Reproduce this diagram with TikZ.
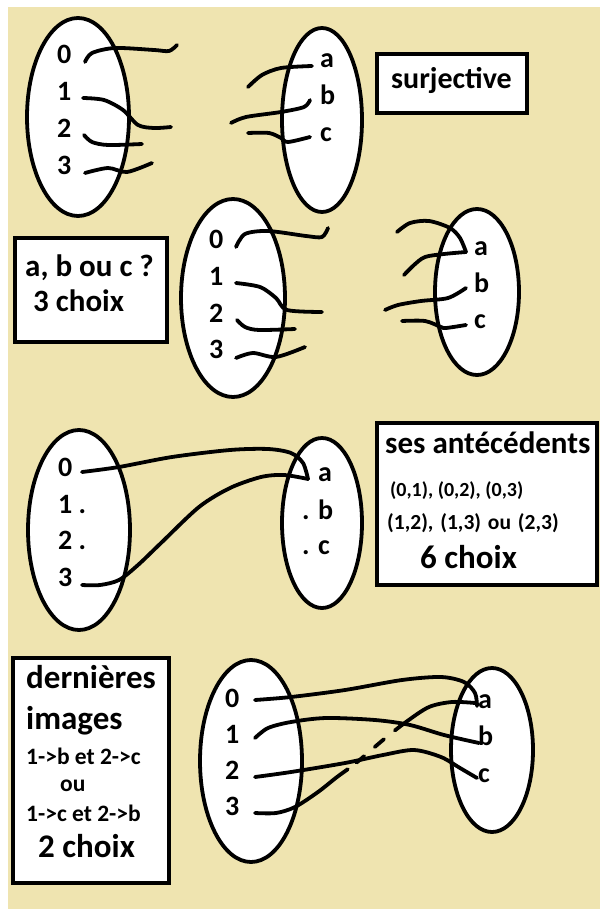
\documentclass[tikz,border=0pt]{standalone}
\usepackage{fontspec}
\setmainfont{Carlito}
\usetikzlibrary{shapes.geometric}
\definecolor{parchment}{RGB}{239,228,176}
\begin{document}
\begin{tikzpicture}[x=1pt,y=-1pt,
  setoval/.style={ellipse, draw, fill=white, line width=3.8pt, inner sep=0pt},
  elt/.style={anchor=base west, inner sep=0pt, font=\bfseries\fontsize{28}{32}\selectfont},
  boxtxt/.style={anchor=base west, inner sep=0pt, font=\bfseries\fontsize{31}{36}\selectfont},
  bigtxt/.style={anchor=base west, inner sep=0pt, font=\bfseries\fontsize{33}{38}\selectfont},
  smalltxt/.style={anchor=base west, inner sep=0pt, font=\bfseries\fontsize{20}{24}\selectfont},
  midtxt/.style={anchor=base west, inner sep=0pt, font=\bfseries\fontsize{23.5}{28}\selectfont},
  frame/.style={rectangle, draw, fill=white, line width=4.5pt, inner sep=0pt},
  link/.style={line width=3.8pt, line cap=round, line join=round},
]
% background
\useasboundingbox (0,0) rectangle (600,909);
\fill[white] (0,0) rectangle (600,909);
\fill[parchment] (8,7) rectangle (600,909);

% ---------- first diagram: surjective ----------
\node[setoval, minimum width=102pt, minimum height=198pt] (A1) at (78,117) {};
\node[setoval, minimum width=80pt, minimum height=184pt] (B1) at (322,120) {};
\node[elt] (A1n0) at (57,64) {0};
\node[elt] (A1n1) at (57,101) {1};
\node[elt] (A1n2) at (57,138) {2};
\node[elt] (A1n3) at (57,175) {3};
\node[elt] (B1na) at (320,68) {a};
\node[elt] (B1nb) at (320,105) {b};
\node[elt] (B1nc) at (320,142) {c};
\node[frame, minimum width=150pt, minimum height=59pt] (S1) at (452,83.5) {};
\node[boxtxt, font=\bfseries\fontsize{30}{34}\selectfont] (S1t) at (391,89) {surjective};

\coordinate (u0) at (85,62);
\coordinate (u1) at (83,98);
\coordinate (u2) at (84,135);
\coordinate (u3) at (85,173);
\coordinate (va) at (312,66);
\coordinate (vb) at (310,100);
\coordinate (vc) at (310,137);
\draw[link] plot[smooth] coordinates {(u0) (92,53) (115,48) (154,50) (169,51) (177,45)};
\draw[link] plot[smooth] coordinates {(u1) (104,100) (123,110) (138,125) (154,128) (171,127)};
\draw[link] plot[smooth] coordinates {(u2) (92,142) (108,145) (142,144)};
\draw[link] plot[smooth] coordinates {(u3) (108,168) (127,172) (152,163)};
\draw[link] plot[smooth] coordinates {(248,87) (262,75) (281,68) (va)};
\draw[link] plot[smooth] coordinates {(231,123) (246,117) (281,112) (304,107) (vb)};
\draw[link] plot[smooth] coordinates {(248,133) (269,133) (281,138) (288,142) (vc)};

% ---------- second diagram: image of 0 ----------
\node[frame, minimum width=152pt, minimum height=104pt] (S2) at (91,290) {};
\node[boxtxt] (S2t1) at (25,276) {a, b ou c ?};
\node[boxtxt] (S2t2) at (33,311) {3 choix};
\node[setoval, minimum width=104pt, minimum height=198pt] (A2) at (233,298) {};
\node[setoval, minimum width=84pt, minimum height=166pt] (B2) at (477,292) {};
\node[elt] (A2n0) at (209,248) {0};
\node[elt] (A2n1) at (209,285) {1};
\node[elt] (A2n2) at (209,322) {2};
\node[elt] (A2n3) at (209,358) {3};
\node[elt] (B2na) at (474,255) {a};
\node[elt] (B2nb) at (474,292) {b};
\node[elt] (B2nc) at (474,328) {c};

\coordinate (w0) at (236,247);
\coordinate (w1) at (236,283);
\coordinate (w2) at (237,320);
\coordinate (w3) at (236,358);
\coordinate (xa) at (466,252);
\coordinate (xb) at (466,288);
\coordinate (xc) at (466,325);
\draw[link] plot[smooth] coordinates {(w0) (245,234) (268,231) (306,236) (322,237) (328,228)};
\draw[link] plot[smooth] coordinates {(w1) (260,287) (276,298) (287,310) (322,312)};
\draw[link] plot[smooth] coordinates {(w2) (245,327) (259,330) (295,329)};
\draw[link] plot[smooth] coordinates {(w3) (253,353) (276,357) (305,347)};
\draw[link] plot[smooth] coordinates {(397,232) (410,223) (429,221) (450,228) (460,238) (xa)};
\draw[link] plot[smooth] coordinates {(404,275) (414,265) (425,257) (444,254) (xa)};
\draw[link] plot[smooth] coordinates {(385,310) (398,305) (421,301) (448,298) (xb)};
\draw[link] plot[smooth] coordinates {(402,321) (425,321) (441,327) (446,328) (xc)};

% ---------- third diagram: antecedents of a ----------
\node[setoval, minimum width=102pt, minimum height=200pt] (A3) at (79,530) {};
\node[setoval, minimum width=80pt, minimum height=170pt] (B3) at (322,523) {};
\node[elt] (A3n0) at (58,476) {0};
\node[elt] (A3n1) at (58,513) {1 .};
\node[elt] (A3n2) at (58,549) {2 .};
\node[elt] (A3n3) at (58,586) {3};
\node[elt] (B3na) at (318,481) {a};
\node[elt] (B3nb) at (302,519) {. b};
\node[elt] (B3nc) at (302,554) {. c};
\node[frame, minimum width=220pt, minimum height=162pt] (S3) at (487,504) {};
\node[boxtxt] (S3t1) at (385,453) {ses antécédents};
\node[smalltxt] (S3t2) at (390,496) {(0,1), (0,2), (0,3)};
\node[smalltxt, font=\bfseries\fontsize{21.5}{25}\selectfont] (S3t3) at (387,529) {(1,2),\hspace{2pt} (1,3)\hspace{2pt} ou\hspace{2pt} (2,3)};
\node[bigtxt] (S3t4) at (420,568) {6 choix};

\coordinate (y0) at (82,472);
\coordinate (y3) at (82,585);
\coordinate (za) at (308,479);
\draw[link] plot[smooth] coordinates {(y0) (119,467) (172,457) (230,450) (268,449) (291,453) (303,463) (za)};
\draw[link] plot[smooth] coordinates {(y3) (100,585) (119,580) (138,565) (161,543) (199,507) (230,488) (261,477) (284,475) (za)};

% ---------- fourth diagram: last images ----------
\node[frame, minimum width=156pt, minimum height=225pt] (S4) at (91,770.5) {};
\node[bigtxt] (S4t1) at (26,688) {dernières};
\node[bigtxt] (S4t2) at (26,729) {images};
\node[midtxt] (S4t3) at (26,764) {1->b et 2->c};
\node[midtxt] (S4t4) at (60,791) {ou};
\node[midtxt] (S4t5) at (26,821) {1->c et 2->b};
\node[bigtxt] (S4t6) at (38,857) {2 choix};
\node[setoval, minimum width=102pt, minimum height=202pt] (A4) at (251,761) {};
\node[setoval, minimum width=82pt, minimum height=164pt] (B4) at (492,750) {};
\node[elt] (A4n0) at (225,707) {0};
\node[elt] (A4n1) at (225,743) {1};
\node[elt] (A4n2) at (225,779) {2};
\node[elt] (A4n3) at (225,815) {3};
\node[elt] (B4na) at (478,708) {a};
\node[elt] (B4nb) at (478,745) {b};
\node[elt] (B4nc) at (478,782) {c};

\coordinate (q0) at (255,700);
\coordinate (q1) at (255,738);
\coordinate (q2) at (255,777);
\coordinate (q3) at (255,813);
\coordinate (ra) at (477,706);
\coordinate (rb) at (479,743);
\coordinate (rc) at (477,778);
\coordinate (ra2) at (475,703);
\draw[link] plot[smooth] coordinates {(q0) (291,697) (345,690) (402,680) (441,677) (464,682) (475,693) (ra)};
\draw[link] plot[smooth] coordinates {(q1) (268,728) (291,722) (326,718) (375,720) (410,725) (444,735) (rb)};
\draw[link] plot[smooth] coordinates {(q2) (291,772) (345,763) (383,755) (414,750) (441,757) (460,768) (rc)};
\draw[link, dash pattern=on 106pt off 11pt on 10pt off 14pt on 12pt off 14pt on 300pt]
  plot[smooth] coordinates {(q3) (276,813) (295,807) (318,792) (337,777) (356,763) (383,740) (406,722) (429,707) (452,702) (ra2)};
\end{tikzpicture}
\end{document}
